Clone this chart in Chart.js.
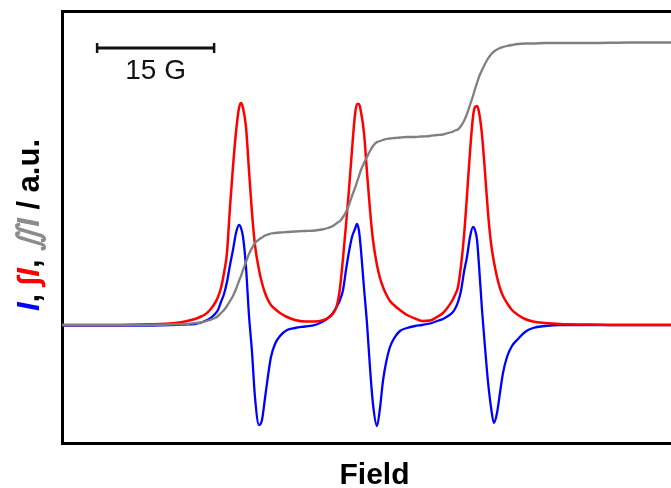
<!DOCTYPE html>
<html><head><meta charset="utf-8">
<script src="https://cdn.jsdelivr.net/npm/chart.js@4.4.1/dist/chart.umd.min.js"></script>
<style>html,body{margin:0;padding:0;background:#fff;overflow:hidden;width:671px;height:488px}canvas{display:block}</style>
</head><body>
<canvas id="c" width="687" height="488"></canvas>
<script>
// Field (G, relative) at which the three traces were read
const field = [0,4.87,10.00,13.85,15.77,17.05,17.69,18.33,18.97,19.62,
20.00,20.38,20.77,21.15,21.54,21.92,22.31,22.69,22.95,23.21,
23.59,23.97,24.36,24.74,25.26,25.64,26.03,26.41,26.79,27.31,
27.95,28.85,29.87,31.15,32.44,33.33,34.10,34.74,35.26,35.64,
36.03,36.41,36.79,37.18,37.56,37.82,38.08,38.33,38.72,39.10,
39.49,39.87,40.38,40.77,41.15,41.54,42.05,42.69,43.33,44.23,
45.26,46.15,47.18,48.08,48.85,49.49,50.00,50.38,50.77,51.15,
51.54,51.92,52.31,52.69,52.95,53.21,53.46,53.85,54.23,54.62,
55.00,55.38,55.77,56.15,56.54,57.05,57.69,58.46,59.36,60.38,
61.92,63.85,67.69,72.82,78.08,80.13];

// I (first-derivative EPR signal), blue
const signalI = [-0.005,-0.005,-0.005,0,0.005,0.01,0.02,0.04,0.065,0.11,
0.15,0.23,0.31,0.43,0.60,0.75,0.92,1.00,0.97,0.88,
0.58,0.10,-0.27,-0.72,-1.00,-0.95,-0.73,-0.51,-0.32,-0.19,
-0.11,-0.05,-0.03,-0.015,0,0.03,0.07,0.12,0.19,0.25,
0.35,0.55,0.73,0.88,0.96,1.01,0.94,0.75,0.37,0.02,
-0.43,-0.79,-1.01,-0.83,-0.56,-0.38,-0.22,-0.12,-0.06,-0.03,
-0.01,0,0.015,0.04,0.06,0.09,0.12,0.16,0.23,0.34,
0.53,0.68,0.88,0.98,0.95,0.85,0.60,0.15,-0.22,-0.57,
-0.82,-0.98,-0.88,-0.68,-0.48,-0.32,-0.21,-0.14,-0.07,-0.03,
-0.01,0,0,0,0,0];

// ∫I (absorption), red
const integralI = [0,0,0.005,0.015,0.035,0.06,0.08,0.105,0.15,0.22,
0.28,0.37,0.52,0.72,1.18,1.58,1.93,2.17,2.22,2.17,
1.98,1.55,1.12,0.80,0.55,0.42,0.32,0.25,0.20,0.16,
0.12,0.08,0.05,0.035,0.035,0.045,0.07,0.115,0.20,0.37,
0.67,1.00,1.35,1.75,2.10,2.21,2.21,2.13,1.92,1.53,
1.15,0.85,0.60,0.47,0.38,0.31,0.24,0.19,0.15,0.10,
0.065,0.04,0.045,0.08,0.12,0.18,0.24,0.30,0.38,0.59,
0.89,1.29,1.73,2.08,2.18,2.19,2.13,1.90,1.53,1.12,
0.82,0.63,0.48,0.37,0.29,0.22,0.15,0.10,0.06,0.035,
0.02,0.01,0.005,0,0,0];

// ∬I (double integral), grey
const doubleIntegralI = [0,0,0,0.005,0.01,0.02,0.025,0.035,0.05,0.07,
0.09,0.12,0.15,0.19,0.24,0.29,0.36,0.44,0.49,0.55,
0.63,0.71,0.77,0.82,0.855,0.875,0.895,0.905,0.915,0.92,
0.925,0.93,0.935,0.94,0.945,0.955,0.97,0.99,1.02,1.04,
1.08,1.13,1.20,1.29,1.37,1.43,1.49,1.55,1.62,1.68,
1.74,1.79,1.83,1.84,1.85,1.86,1.865,1.87,1.875,1.88,
1.88,1.885,1.89,1.90,1.905,1.92,1.93,1.945,1.955,1.99,
2.04,2.11,2.20,2.29,2.36,2.42,2.48,2.55,2.61,2.665,
2.705,2.735,2.755,2.77,2.78,2.79,2.80,2.81,2.815,2.815,
2.82,2.82,2.82,2.825,2.825,2.825];

const scaleBarField = [4.5, 19.5];   // a 15 G span
const scaleBarLabel = '15 G';
const xTitle = 'Field';
const yTitleParts = ['I', ', ', '\u222BI', ', ', '\u222CI', ' / a.u.'];
const fieldRange = [0, 80.13];
const valueRange = [-1.18, 3.14];

const BLUE = '#0000ff', RED = '#ff0000', GREY = '#808080';

function pts(ys){ return field.map((x,i)=>({x:x, y:ys[i]})); }

const yTitlePlugin = {
  id: 'yTitle',
  afterDraw(chart){
    const ctx = chart.ctx, a = chart.chartArea;
    const colors = [BLUE, '#000', RED, '#000', '#8c8c8c', '#000'];
    const italic = [true, false, true, false, true, false];
    const fam = '"Liberation Sans", Arial, sans-serif';
    const size = 31;
    ctx.save();
    let total = 0; const w = [];
    yTitleParts.forEach((t,i)=>{
      ctx.font = (italic[i]?'italic ':'') + 'bold ' + size + 'px ' + fam;
      w.push(ctx.measureText(t).width); total += w[i];
    });
    ctx.translate(39, (a.top + a.bottom)/2 - 2);
    ctx.rotate(-Math.PI/2);
    ctx.textBaseline = 'alphabetic';
    ctx.textAlign = 'left';
    let x = -total/2;
    yTitleParts.forEach((t,i)=>{
      ctx.font = (italic[i]?'italic ':'') + 'bold ' + size + 'px ' + fam;
      ctx.fillStyle = colors[i];
      ctx.fillText(t, x, 0);
      x += w[i];
    });
    ctx.restore();
  }
};

const scaleBarPlugin = {
  id: 'scaleBar',
  afterDraw(chart){
    const ctx = chart.ctx, xs = chart.scales.x, a = chart.chartArea;
    const x1 = xs.getPixelForValue(scaleBarField[0]);
    const x2 = xs.getPixelForValue(scaleBarField[1]);
    const y = a.top + 37;
    ctx.save();
    ctx.strokeStyle = '#111'; ctx.lineWidth = 3;
    ctx.beginPath(); ctx.moveTo(x1, y); ctx.lineTo(x2, y); ctx.stroke();
    ctx.lineWidth = 2.5;
    ctx.beginPath(); ctx.moveTo(x1, y-5); ctx.lineTo(x1, y+5);
    ctx.moveTo(x2, y-5); ctx.lineTo(x2, y+5); ctx.stroke();
    ctx.fillStyle = '#111';
    ctx.font = '28px "Liberation Sans", Arial, sans-serif';
    ctx.textAlign = 'center'; ctx.textBaseline = 'alphabetic';
    ctx.fillText(scaleBarLabel, (x1+x2)/2, y + 31);
    ctx.restore();
  }
};

const hidden = {display:false};
new Chart(document.getElementById('c'), {
  type: 'line',
  data: {
    datasets: [
      {label:'\u222CI', data: pts(doubleIntegralI), borderColor: GREY, borderWidth: 2.3},
      {label:'\u222BI', data: pts(integralI), borderColor: RED, borderWidth: 2.5},
      {label:'I', data: pts(signalI), borderColor: BLUE, borderWidth: 2.3}
    ]
  },
  options: {
    responsive: false,
    animation: false,
    devicePixelRatio: 1,
    parsing: false,
    elements: { point: {radius: 0}, line: {cubicInterpolationMode: 'monotone', fill: false} },
    layout: { padding: {left: 62, top: 11, right: 0, bottom: 0} },
    plugins: { legend: hidden, tooltip: {enabled:false} },
    scales: {
      x: {
        type: 'linear', position: 'bottom', min: fieldRange[0], max: fieldRange[1],
        ticks: hidden, grid: {display:false, drawTicks:false},
        border: {display:true, width:3, color:'#000'},
        title: {display:true, text: xTitle, color:'#000',
          font: {family:'"Liberation Sans", Arial, sans-serif', size:30, weight:'bold', lineHeight:0.8},
          padding: {top:21, bottom:0}}
      },
      x2: {
        type: 'linear', position: 'top', min: fieldRange[0], max: fieldRange[1],
        ticks: hidden, grid: {display:false, drawTicks:false},
        border: {display:true, width:3, color:'#000'}
      },
      y: {
        type: 'linear', position: 'left', min: valueRange[0], max: valueRange[1],
        ticks: hidden, grid: {display:false, drawTicks:false},
        border: {display:true, width:3, color:'#000'}
      }
    }
  },
  plugins: [yTitlePlugin, scaleBarPlugin]
});
</script>
</body></html>
